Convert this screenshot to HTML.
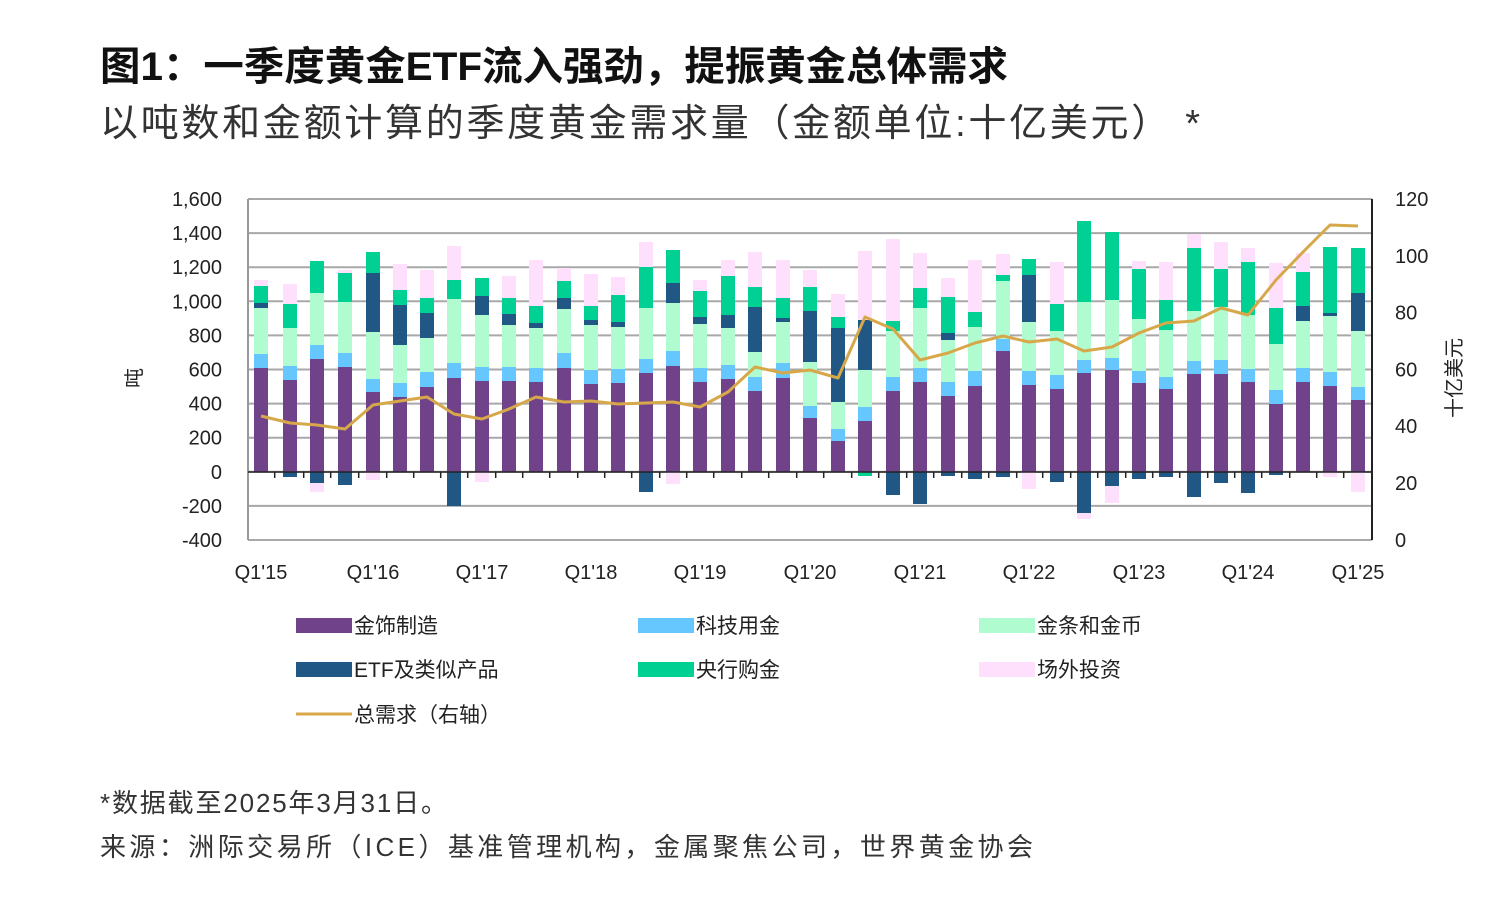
<!DOCTYPE html>
<html><head><meta charset="utf-8"><style>
body{margin:0;background:#fff;width:1500px;height:902px;overflow:hidden;font-family:"Liberation Sans","Noto Sans CJK SC",sans-serif;}
svg text{font-family:"Liberation Sans","Noto Sans CJK SC",sans-serif;}
</style></head><body>
<svg id="s" width="1500" height="902" xmlns="http://www.w3.org/2000/svg">
<text x="100" y="80" font-size="40" font-weight="bold" fill="#111" textLength="908" lengthAdjust="spacingAndGlyphs">图1：一季度黄金ETF流入强劲，提振黄金总体需求</text>
<text x="100" y="136" font-size="38" fill="#333" textLength="1100" lengthAdjust="spacing">以吨数和金额计算的季度黄金需求量（金额单位:十亿美元） *</text>
<g id="grid"></g><g id="bars"></g><g id="ax"></g>
<text x="100" y="812" font-size="26" fill="#333" textLength="347" lengthAdjust="spacing">*数据截至2025年3月31日。</text>
<text x="100" y="856" font-size="26" fill="#333" textLength="933" lengthAdjust="spacing">来源：洲际交易所（ICE）基准管理机构，金属聚焦公司，世界黄金协会</text>
</svg>
<script>
const NS="http://www.w3.org/2000/svg";
function el(p,t,a,txt){const e=document.createElementNS(NS,t);for(const k in a)e.setAttribute(k,a[k]);if(txt!==undefined)e.textContent=txt;document.getElementById(p).appendChild(e);return e;}
const C=["#70428a","#66c7ff","#b0fcd0","#215784","#00d193","#ffe0fc"];
for(let k=0;k<=10;k++){const y=199+k*34.1;el("grid","line",{x1:248,x2:1372,y1:y,y2:y,stroke:"#a8a8a8","stroke-width":2});
 el("ax","text",{x:222,y:y+7,"font-size":20,"text-anchor":"end",fill:"#222"},(1600-200*k).toLocaleString("en-US"));}
for(let k=0;k<=6;k++){const y=199+k*56.8;el("ax","text",{x:1395,y:y+7,"font-size":20,fill:"#222"},120-20*k);}
el("ax","line",{x1:248,x2:248,y1:199,y2:540,stroke:"#999","stroke-width":2});
el("ax","line",{x1:1372,x2:1372,y1:199,y2:540,stroke:"#222","stroke-width":2});
const X=[261,290,317,345,373,400,427,454,482,509,536,564,591,618,646,673,700,728,755,783,810,838,865,893,920,948,975,1003,1029,1057,1084,1112,1139,1166,1194,1221,1248,1276,1303,1330,1358];
const T=[
[368,354,308,303,286,280],[380,366,328,328,304,284],[359,345,293,293,261,261],[367,353,302,302,273,270],[392,379,332,273,252,252],
[397,383,345,305,290,264],[387,372,338,313,298,270],[378,363,299,299,280,246],[381,367,315,296,278,278],[381,367,325,314,298,276],
[382,368,328,323,306,260],[368,353,309,298,281,268],[384,370,325,320,306,274],[383,369,327,322,295,277],[373,359,308,308,267,242],
[366,351,303,283,250,250],[382,368,324,317,291,280],[379,365,328,315,276,260],[391,377,352,307,287,252],[378,363,322,318,298,260],
[418,406,362,311,287,270],[441,429,402,328,317,294],[421,407,370,320,320,251],[391,377,331,331,321,239],[382,368,308,308,288,253],
[396,382,340,333,297,278],[386,371,327,327,312,260],[351,339,281,281,275,254],[385,371,322,275,259,259],[389,375,331,331,304,262],
[373,360,302,302,221,221],[370,358,300,300,232,232],[383,371,319,319,269,261],[389,377,330,330,300,262],[374,361,311,311,248,234],
[374,360,307,307,269,242],[382,369,315,315,262,248],[404,390,344,344,308,263],[382,368,321,306,272,253],[386,372,316,313,247,247],[400,387,331,293,248,248]];
const N={1:[[3,477]],2:[[3,483],[5,492]],3:[[3,485]],4:[[5,480]],7:[[3,506]],8:[[5,482]],14:[[3,492]],15:[[5,484]],22:[[4,476]],23:[[3,495]],24:[[3,504]],25:[[3,476]],26:[[3,479]],27:[[3,477]],28:[[5,489]],29:[[3,482]],30:[[3,513],[5,519]],31:[[3,486],[5,503]],32:[[3,479]],33:[[3,477]],34:[[3,497]],35:[[3,483]],36:[[3,493]],37:[[3,475]],39:[[5,477]],40:[[5,492]]};
X.forEach((x,i)=>{let b=472;T[i].forEach((t,j)=>{if(t<b){el("bars","rect",{x:x-7,y:t,width:14,height:b-t,fill:C[j]});b=t;}});
 let nb=472;(N[i]||[]).forEach(([c,y])=>{el("bars","rect",{x:x-7,y:nb,width:14,height:y-nb,fill:C[c]});nb=y;});
 if(i<40)el("ax","line",{x1:x+13.7,x2:x+13.7,y1:472,y2:478,stroke:"#222","stroke-width":1.5});});
el("ax","line",{x1:248,x2:1372,y1:472,y2:472,stroke:"#222","stroke-width":1.5});
const L=[416,423,425,429,405,401,397,414,419,409,397,402,401,404,403,402,407,392,367,373,370,378,317,329,360,353,343,336,342,339,351,347,333,323,321,308,315,280,252,225,226];
el("bars","polyline",{points:X.map((x,i)=>x+","+L[i]).join(" "),fill:"none",stroke:"#d7a84a","stroke-width":3,"stroke-linejoin":"round"});
["Q1'15","Q1'16","Q1'17","Q1'18","Q1'19","Q1'20","Q1'21","Q1'22","Q1'23","Q1'24","Q1'25"].forEach((s,k)=>el("ax","text",{x:X[k*4],y:579,"font-size":20,"text-anchor":"middle",fill:"#222"},s));
el("ax","text",{x:0,y:0,"font-size":20,fill:"#222",transform:"translate(141,378) rotate(-90)","text-anchor":"middle"},"吨");
el("ax","text",{x:0,y:0,"font-size":20,fill:"#222",transform:"translate(1461,378) rotate(-90)","text-anchor":"middle"},"十亿美元");
const LG=[[296,625,0,"金饰制造"],[638,625,1,"科技用金"],[979,625,2,"金条和金币"],[296,669,3,"ETF及类似产品"],[638,669,4,"央行购金"],[979,669,5,"场外投资"]];
LG.forEach(([x,y,c,s])=>{el("ax","rect",{x:x,y:y-7,width:56,height:15,fill:C[c]});el("ax","text",{x:x+58,y:y+8,"font-size":21,fill:"#222"},s);});
el("ax","line",{x1:296,x2:352,y1:714,y2:714,stroke:"#d7a84a","stroke-width":3});
el("ax","text",{x:354,y:722,"font-size":21,fill:"#222"},"总需求（右轴）");
</script>
</body></html>
